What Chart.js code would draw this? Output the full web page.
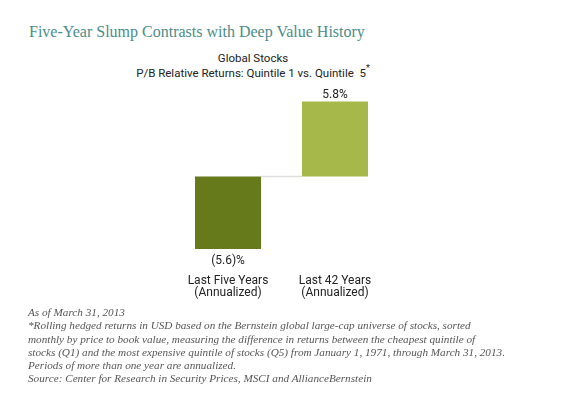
<!DOCTYPE html>
<html>
<head>
<meta charset="utf-8">
<title>Five-Year Slump Contrasts with Deep Value History</title>
<script src="https://cdn.jsdelivr.net/npm/chart.js@4.4.0/dist/chart.umd.min.js"></script>
<style>
    body { margin: 0; background: #fff; width: 580px; height: 409px; position: relative; overflow: hidden; }
    #title { position: absolute; left: 29px; top: 23px; font-family: "Liberation Serif", serif; font-size: 16px; line-height: 18px; color: #4b8d89; white-space: nowrap; }
    #sub { position: absolute; left: 100px; width: 306px; top: 51px; text-align: center; font-family: Roboto, sans-serif; font-size: 11.5px; line-height: 14.5px; color: #222; }
    #sub sup { font-size: 9px; line-height: 0; position: relative; top: -1px; }
    #wrap { position: absolute; left: 100px; top: 83px; width: 306px; height: 230px; }
    #notes { position: absolute; left: 28px; top: 306px; font-family: "Liberation Serif", serif; font-style: italic; font-size: 11.2px; line-height: 13.3px; color: #555; white-space: nowrap; }
</style>
</head>
<body>
<div id="title">Five-Year Slump Contrasts with Deep Value History</div>
<div id="sub">Global Stocks<br>P/B Relative Returns: Quintile 1 vs. Quintile&nbsp; 5<sup>*</sup></div>
<div id="wrap"><canvas id="chart-pb-returns"></canvas></div>
<div id="notes">
    As of March 31, 2013<br>
    *Rolling hedged returns in USD based on the Bernstein global large-cap universe of stocks, sorted<br>
    monthly by price to book value, measuring the difference in returns between the cheapest quintile of<br>
    stocks (Q1) and the most expensive quintile of stocks (Q5) from January 1, 1971, through March 31, 2013.<br>
    Periods of more than one year are annualized.<br>
    Source: Center for Research in Security Prices, MSCI and AllianceBernstein
</div>
<script>
// data
const categories = [["Last Five Years", "(Annualized)"], ["Last 42 Years", "(Annualized)"]];
const returns = [-5.6, 5.8];
const barColors = ['#66791b', '#a6b849'];

// value labels above/below bars + zero line between the bars
const barExtras = {
    id: 'barExtras',
    afterDatasetsDraw(chart) {
        let ctx = chart.ctx;
        let meta = chart.getDatasetMeta(0);
        let y0 = chart.scales.y.getPixelForValue(0);
        let first = meta.data[0], last = meta.data[meta.data.length - 1];
        ctx.save();
        ctx.strokeStyle = '#dddddd';
        ctx.lineWidth = 1.5;
        ctx.beginPath();
        ctx.moveTo(first.x + first.width / 2, y0);
        ctx.lineTo(last.x - last.width / 2, y0);
        ctx.stroke();

        ctx.font = '12px Roboto';
        ctx.fillStyle = '#222';
        ctx.textAlign = 'center';
        meta.data.forEach(function (bar, i) {
            let v = returns[i];
            let txt = v < 0 ? '(' + Math.abs(v).toFixed(1) + ')%' : v.toFixed(1) + '%';
            if (v < 0) {
                ctx.textBaseline = 'top';
                ctx.fillText(txt, bar.x, bar.y + 6);
            } else {
                ctx.textBaseline = 'bottom';
                ctx.fillText(txt, bar.x, bar.y - 1);
            }
        });
        ctx.restore();
    }
};

let cpr = document.getElementById("chart-pb-returns").getContext("2d");
let chart_pb_returns = new Chart(cpr, {
    type: 'bar',
    data: {
        labels: categories,
        datasets: [{
            data: returns,
            backgroundColor: barColors,
            borderWidth: 0,
            barPercentage: 0.617,
            categoryPercentage: 1
        }]
    },
    options: {
        responsive: true,
        maintainAspectRatio: false,
        animation: false,
        layout: {
            padding: { left: 74.5, right: 17.5, top: 3, bottom: 6 }
        },
        scales: {
            y: {
                display: false,
                min: -7,
                max: 7
            },
            x: {
                grid: { display: false, drawTicks: false },
                border: { display: false },
                ticks: {
                    padding: 8,
                    color: '#222',
                    font: { family: 'Roboto', size: 12, lineHeight: 1.0 }
                }
            }
        },
        plugins: {
            legend: { display: false },
            tooltip: { enabled: false }
        }
    },
    plugins: [barExtras]
});
</script>
</body>
</html>
